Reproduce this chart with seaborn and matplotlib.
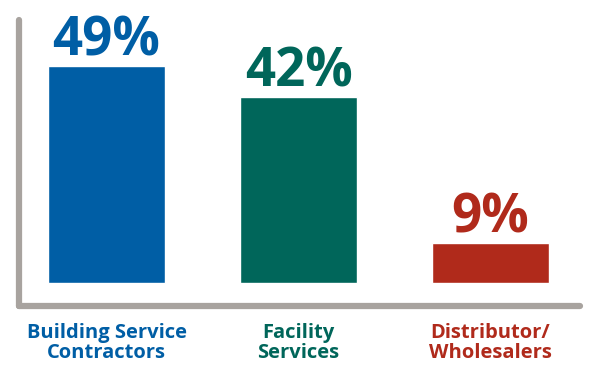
import matplotlib
matplotlib.use("Agg")
import matplotlib.pyplot as plt
import seaborn as sns
import pandas as pd

# data
categories = ["Building Service\nContractors", "Facility\nServices", "Distributor/\nWholesalers"]
shares = [49, 42, 9]
colors = ["#005ea5", "#00665a", "#b02a1b"]

df = pd.DataFrame({"cat": categories, "share": shares})

sns.set_theme(style="white")
plt.rcParams["font.family"] = ["Open Sans", "DejaVu Sans"]

fig = plt.figure(figsize=(6, 3.71), dpi=100)
ax = fig.add_axes([0, 0, 1, 1])

sns.barplot(data=df, x="cat", y="share", hue="cat", palette=colors,
            width=0.61, legend=False, ax=ax, saturation=1)

ax.set_xlim(-0.555, 2.570)
ax.set_ylim(-19.9, 63.9)

# percent labels on top
for cont, col in zip(ax.containers, colors):
    ax.bar_label(cont, labels=[f"{v:.0f}%" for v in cont.datavalues],
                 padding=-2, color=col, fontsize=38, fontweight="bold")

# grey L-shaped axis
for side in ["top", "right"]:
    ax.spines[side].set_visible(False)
ax.spines["left"].set_position(("data", -0.456))
ax.spines["left"].set_bounds(-5.2, 59.4)
ax.spines["bottom"].set_position(("data", -5.2))
ax.spines["bottom"].set_bounds(-0.456, 2.466)
for side in ["left", "bottom"]:
    ax.spines[side].set_color("#a8a39f")
    ax.spines[side].set_linewidth(4.5)
    ax.spines[side].set_capstyle("round")

ax.set_yticks([])
ax.set_xlabel("")
ax.set_ylabel("")
ax.tick_params(axis="x", length=0, pad=12)
for lbl, col in zip(ax.get_xticklabels(), colors):
    lbl.set_color(col)
    lbl.set_fontsize(14.5)
    lbl.set_fontweight("bold")
    lbl.set_linespacing(1.0)

fig.savefig("out.png", dpi=100)
